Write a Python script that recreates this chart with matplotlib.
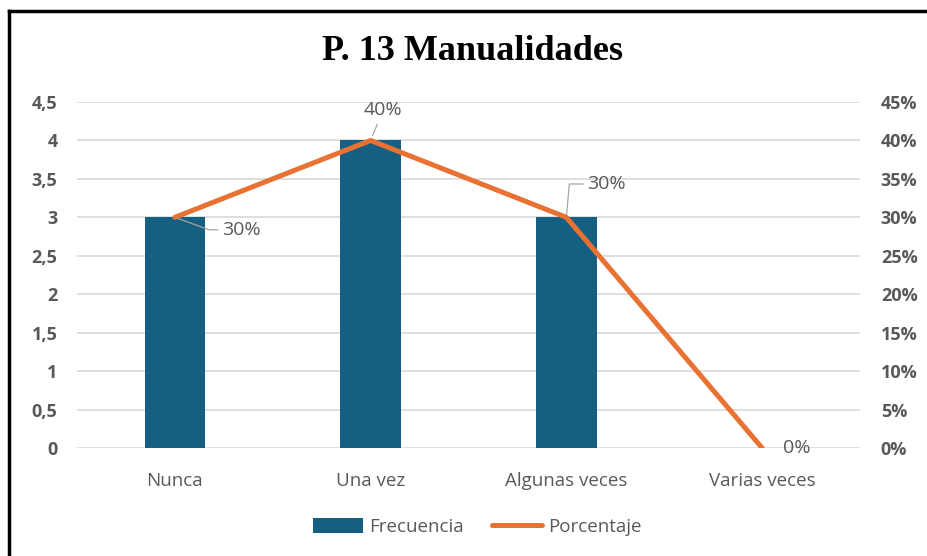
import matplotlib.pyplot as plt
import numpy as np

categorias = ["Nunca", "Una vez", "Algunas veces", "Varias veces"]
frecuencia = [3, 4, 3, 0]
porcentaje = [0.30, 0.40, 0.30, 0.0]
etiquetas = ["30%", "40%", "30%", "0%"]

plt.rcParams['font.family'] = ['Open Sans', 'DejaVu Sans']
gris = '#595959'

fig = plt.figure(figsize=(9.28, 5.56), dpi=100)
ax = fig.add_axes([77/928, 1 - 448/556, 783/928, 346/556])
ax2 = ax.twinx()

x = np.arange(len(categorias))
ax.bar(x, frecuencia, width=0.31, color='#156082', zorder=2, label='Frecuencia')
ax.set_xlim(-0.5, 3.5)
ax.set_ylim(0, 4.5)
ax.set_yticks(np.arange(0, 4.51, 0.5))
ax.set_yticklabels([('%g' % v).replace('.', ',') for v in np.arange(0, 4.51, 0.5)],
                   fontweight='bold', color=gris, fontsize=13)
ax.set_xticks(x)
ax.set_xticklabels(categorias, color=gris, fontsize=13.5)
ax.tick_params(axis='both', length=0)
ax.tick_params(axis='x', pad=17)
ax.tick_params(axis='y', pad=14)
ax.grid(axis='y', color='#d9d9d9', linewidth=1.2, zorder=0)
for s in ax.spines.values():
    s.set_visible(False)

ax2.plot(x, porcentaje, color='#E97132', linewidth=3.6, solid_capstyle='round',
         zorder=3, label='Porcentaje')
ax2.set_ylim(0, 0.45)
ax2.set_yticks(np.arange(0, 0.451, 0.05))
ax2.set_yticklabels(['%d%%' % round(v * 100) for v in np.arange(0, 0.451, 0.05)],
                    fontweight='bold', color=gris, fontsize=13)
ax2.tick_params(axis='y', length=0, pad=15)
for s in ax2.spines.values():
    s.set_visible(False)

# etiquetas de datos
lider = dict(arrowstyle='-', color='#a6a6a6', lw=0.9)
ax2.annotate(etiquetas[0], (x[0], porcentaje[0]), xytext=(34, -9),
             textcoords='offset points', ha='left', va='center',
             color=gris, fontsize=14,
             arrowprops=dict(lider, relpos=(0, 0.5), shrinkA=1, shrinkB=2,
                             connectionstyle='angle,angleA=0,angleB=-20,rad=0'))
ax2.annotate(etiquetas[1], (x[1], porcentaje[1]), xytext=(9, 22),
             textcoords='offset points', ha='center', va='center',
             color=gris, fontsize=14,
             arrowprops=dict(lider, shrinkA=2, shrinkB=4))
ax2.annotate(etiquetas[2], (x[2], porcentaje[2]), xytext=(15, 24),
             textcoords='offset points', ha='left', va='center',
             color=gris, fontsize=14,
             arrowprops=dict(lider, relpos=(0, 0.5), shrinkA=1, shrinkB=2,
                             connectionstyle='angle,angleA=0,angleB=85,rad=0'))
ax2.annotate(etiquetas[3], (x[3], porcentaje[3]), xytext=(25, 0),
             textcoords='offset points', ha='center', va='center',
             color=gris, fontsize=14)

fig.text(473/928, 1 - 51/556, "P. 13 Manualidades", ha='center', va='center',
         fontsize=26, fontweight='bold', family='Liberation Serif')

h1, l1 = ax.get_legend_handles_labels()
h2, l2 = ax2.get_legend_handles_labels()
fig.legend(h1 + h2, l1 + l2, loc='center', bbox_to_anchor=(477/928, 1 - 527/556),
           ncol=2, frameon=False, fontsize=13.5, labelcolor=gris,
           handlelength=2.7, handleheight=0.8, columnspacing=1.5, handletextpad=0.3)

# marco del gráfico
fig.add_artist(plt.Line2D([9/928, 9/928], [0, 1 - 11/556], color='black', lw=2.5))
fig.add_artist(plt.Line2D([9/928, 1], [1 - 11/556, 1 - 11/556], color='black', lw=2.5))

fig.savefig('out.png', dpi=100, facecolor='white')
